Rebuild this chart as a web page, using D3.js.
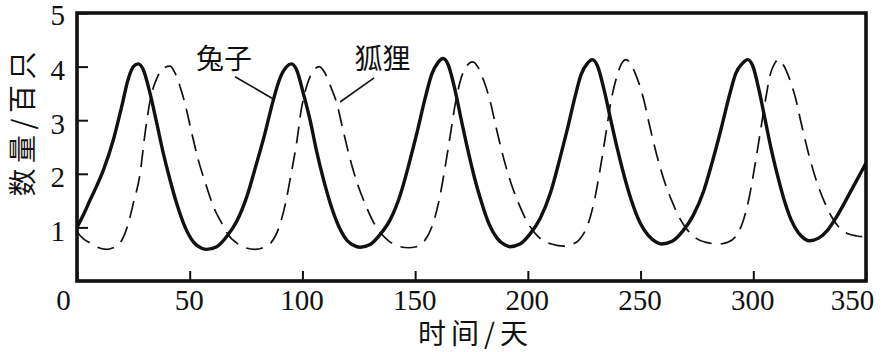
<!DOCTYPE html>
<html>
<head>
<meta charset="utf-8">
<script src="https://cdn.jsdelivr.net/npm/d3@7"></script>
<style>
  body { margin: 0; background: #fff; }
  svg { display: block; }
  .num { font-family: "Times New Roman", "Liberation Serif", "DejaVu Serif", serif; }
  .cjk { font-family: "Noto Sans CJK SC", "Noto Sans CJK JP", sans-serif; }
</style>
</head>
<body>
<div id="chart"></div>
<script>
// 兔子 (实线)
const rabbitDays = [0, 3, 5.8, 8.8, 11.7, 16.1, 19.8, 22.8, 25, 27.2,
  29.4, 32.4, 35.4, 38.3, 41.3, 44.2, 47.9, 51.6, 55.3, 57.5,
  62, 66.4, 70.8, 75.3, 79.7, 83.4, 87.1, 90, 93, 95.2,
  97.4, 100.4, 103.4, 106.3, 109.3, 112.2, 116, 119.7, 123.5, 125.7,
  130, 134.5, 139, 143.5, 147.5, 151, 154.5, 157.3, 160.2, 162.4,
  164.6, 167.6, 170.5, 173.4, 176.3, 179.2, 182.8, 186.3, 189.9, 192,
  196.5, 201, 205.5, 210, 214, 217.5, 221, 223.6, 226.4, 228.6,
  230.8, 233.8, 236.8, 239.8, 242.8, 245.8, 249.6, 253.4, 257.2, 259.4,
  264, 268.7, 273.3, 278, 282.2, 285.8, 289.4, 292.2, 295.2, 297.5,
  299.7, 302.5, 305.3, 308, 310.8, 313.5, 316.8, 320, 323, 324.8,
  329, 333, 337, 341, 345.5, 350];
const rabbitCount = [1.0, 1.25, 1.51, 1.78, 2.07, 2.63, 3.25, 3.78, 4.0, 4.05,
  3.94, 3.5, 2.94, 2.38, 1.88, 1.45, 1.01, 0.73, 0.61, 0.59,
  0.64, 0.83, 1.11, 1.57, 2.2, 2.76, 3.38, 3.78, 4.0, 4.05,
  3.94, 3.5, 3.0, 2.42, 1.9, 1.47, 1.03, 0.76, 0.65, 0.63,
  0.68, 0.87, 1.15, 1.62, 2.22, 2.8, 3.42, 3.85, 4.08, 4.15,
  4.04, 3.58, 3.0, 2.44, 1.93, 1.5, 1.06, 0.8, 0.67, 0.64,
  0.69, 0.88, 1.17, 1.64, 2.25, 2.83, 3.45, 3.85, 4.06, 4.13,
  4.02, 3.57, 3.0, 2.45, 1.95, 1.52, 1.1, 0.85, 0.72, 0.69,
  0.74, 0.93, 1.22, 1.68, 2.28, 2.85, 3.46, 3.87, 4.06, 4.13,
  4.02, 3.57, 3.0, 2.45, 1.96, 1.54, 1.14, 0.9, 0.78, 0.75,
  0.8, 0.95, 1.2, 1.5, 1.85, 2.2];

// 狐狸 (虚线)
const foxDays = [0, 2.5, 5.8, 9, 13, 16, 19.1, 22.8, 25, 28, 30.2, 32.8, 35.4, 38.3,
  41.3, 43.5, 45.7, 47.9, 50.9, 53.8, 57.5, 60.5, 64.2, 67.1, 70.5, 74, 79,
  82.5, 86, 90, 92.5, 95, 97.5, 99.5, 102, 104.5, 107.5,
  110, 112.5, 115, 118, 121, 124.5, 128, 131.5, 135, 138.5, 142, 147,
  150.5, 154, 158, 160.5, 163, 165.5, 168, 170.5, 173, 175.5,
  178, 180.5, 183, 186, 189, 192.5, 196, 199.5, 203, 206.5, 210.5, 216,
  219.5, 223, 227, 229.5, 232, 234.5, 237, 239.5, 241.5, 243.5,
  246, 248.5, 251, 254, 257, 260.5, 264, 267.5, 271, 274.5, 279, 285,
  288.5, 292, 295.5, 298, 300.5, 303, 305.5, 307.5, 309.5, 311,
  313.5, 316, 318.5, 321.5, 324.5, 328, 331.5, 335, 338.5, 342, 346, 350];
const foxCount = [0.92, 0.8, 0.71, 0.63, 0.59, 0.62, 0.71, 1.08, 1.45, 2.01, 2.76, 3.44, 3.78, 3.97,
  4.01, 3.88, 3.63, 3.31, 2.76, 2.26, 1.76, 1.39, 1.08, 0.86, 0.72, 0.63, 0.59,
  0.62, 0.71, 1.05, 1.45, 2.0, 2.6, 3.2, 3.65, 3.9, 4.0,
  3.88, 3.63, 3.35, 2.82, 2.3, 1.8, 1.42, 1.1, 0.88, 0.74, 0.66, 0.62,
  0.64, 0.74, 1.08, 1.48, 2.05, 2.7, 3.35, 3.8, 4.02, 4.09,
  3.98, 3.73, 3.4, 2.85, 2.33, 1.83, 1.44, 1.12, 0.9, 0.76, 0.69, 0.65,
  0.68, 0.78, 1.1, 1.5, 2.07, 2.72, 3.38, 3.82, 4.05, 4.13,
  4.02, 3.78, 3.45, 2.9, 2.38, 1.87, 1.48, 1.16, 0.94, 0.8, 0.72, 0.69,
  0.72, 0.82, 1.12, 1.52, 2.1, 2.75, 3.4, 3.85, 4.06, 4.13,
  4.02, 3.78, 3.45, 2.9, 2.38, 1.87, 1.48, 1.18, 0.98, 0.88, 0.84, 0.82];

const xTicks = [0, 50, 100, 150, 200, 250, 300, 350];
const yTicks = [1, 2, 3, 4, 5];

// 标注: 文字位置与引线 (数据坐标)
const labels = [
  { text: "兔子", day: 65.2, count: 3.96, from: [70.1, 3.81], to: [86.5, 3.41] },
  { text: "狐狸", day: 135.5, count: 3.96, from: [131.8, 3.79], to: [116.7, 3.34] }
];

const svgWidth = 883, svgHeight = 352;
const margin = { left: 77, right: 866, top: 13, bottom: 281 };

const svg = d3.select("#chart")
  .append("svg")
  .attr("width", svgWidth)
  .attr("height", svgHeight);

const x = d3.scaleLinear().domain([0, 350]).range([margin.left, margin.right]);
const y = d3.scaleLinear().domain([0, 5]).range([margin.bottom, margin.top]);

svg.append("defs").append("clipPath").attr("id", "plot")
  .append("rect")
  .attr("x", margin.left).attr("y", margin.top)
  .attr("width", margin.right - margin.left).attr("height", margin.bottom - margin.top);

const line = d3.line()
  .x(d => x(d[0]))
  .y(d => y(d[1]))
  .curve(d3.curveMonotoneX);

const rabbit = rabbitDays.map((d, i) => [d, rabbitCount[i]]);
const fox = foxDays.map((d, i) => [d, foxCount[i]]);

const plot = svg.append("g").attr("clip-path", "url(#plot)");

plot.append("path")
  .datum(fox)
  .attr("d", line)
  .attr("fill", "none")
  .attr("stroke", "#111")
  .attr("stroke-width", 1.7)
  .attr("stroke-dasharray", "17,9");

plot.append("path")
  .datum(rabbit)
  .attr("d", line)
  .attr("fill", "none")
  .attr("stroke", "#111")
  .attr("stroke-width", 3.4)
  .attr("stroke-linejoin", "round");

// 坐标轴 (刻度朝内)
const xAxis = svg.append("g")
  .attr("transform", `translate(0, ${margin.bottom})`)
  .call(d3.axisBottom(x).tickValues(xTicks).tickFormat(d3.format("d")).tickSize(-10));

xAxis.attr("font-family", null).attr("font-size", null);
xAxis.select(".domain").remove();
xAxis.selectAll(".tick line").attr("stroke", "#111").attr("stroke-width", 2);
xAxis.selectAll(".tick text")
  .attr("class", "num")
  .style("font-size", "29px")
  .attr("fill", "#111")
  .attr("y", 29)
  .attr("dy", 0)
  .attr("dx", d => (d === 0 || d === 350) ? -14 : -1);

const yAxis = svg.append("g")
  .attr("transform", `translate(${margin.left}, 0)`)
  .call(d3.axisLeft(y).tickValues(yTicks).tickFormat(d3.format("d")).tickSize(-11));

yAxis.attr("font-family", null).attr("font-size", null);
yAxis.select(".domain").remove();
yAxis.selectAll(".tick line").attr("stroke", "#111").attr("stroke-width", 2);
yAxis.selectAll(".tick text")
  .attr("class", "num")
  .style("font-size", "29px")
  .attr("fill", "#111")
  .attr("x", -12)
  .attr("dy", d => d === 5 ? 11 : 13);

// 外框
svg.append("rect")
  .attr("x", margin.left).attr("y", margin.top)
  .attr("width", margin.right - margin.left).attr("height", margin.bottom - margin.top)
  .attr("fill", "none")
  .attr("stroke", "#111")
  .attr("stroke-width", 3.6);

// 轴标题
svg.append("text")
  .attr("class", "cjk")
  .attr("x", 473).attr("y", 343.5)
  .attr("text-anchor", "middle")
  .style("font-size", "28px")
  .attr("textLength", 110)
  .attr("fill", "#111")
  .text("时间/天");

svg.append("text")
  .attr("class", "cjk")
  .attr("transform", "translate(32.5, 124) rotate(-90)")
  .attr("text-anchor", "middle")
  .style("font-size", "28px")
  .attr("textLength", 145)
  .attr("fill", "#111")
  .text("数量/百只");

// 曲线标注
labels.forEach(l => {
  svg.append("text")
    .attr("class", "cjk")
    .attr("x", x(l.day)).attr("y", y(l.count))
    .attr("text-anchor", "middle")
    .style("font-size", "28px")
    .attr("fill", "#111")
    .text(l.text);
  svg.append("line")
    .attr("x1", x(l.from[0])).attr("y1", y(l.from[1]))
    .attr("x2", x(l.to[0])).attr("y2", y(l.to[1]))
    .attr("stroke", "#111")
    .attr("stroke-width", 1.6);
});
</script>
</body>
</html>
